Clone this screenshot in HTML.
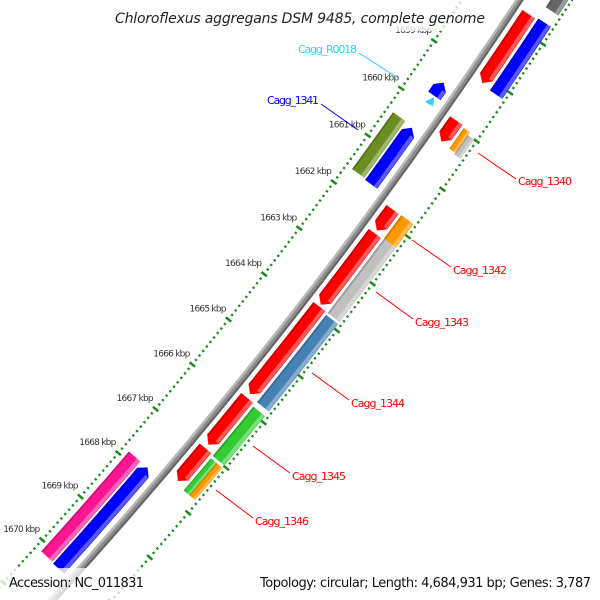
<!DOCTYPE html>
<html><head><meta charset="utf-8"><style>
html,body{margin:0;padding:0;background:#fff;width:600px;height:600px;overflow:hidden;}
svg{display:block;font-family:"DejaVu Sans","Liberation Sans",sans-serif;}
</style></head><body>
<svg id="map" width="600" height="600" viewBox="0 0 600 600" xmlns="http://www.w3.org/2000/svg">
<g id="ticks"></g>
<g id="backbone"></g>
<g id="genes"></g>
<g id="ticklabels" font-size="9" fill="#333"></g>
<g font-size="11">
  <line x1="359" y1="53" x2="398" y2="78" stroke="#33ccff" stroke-width="1"/>
  <text x="298" y="53" fill="#33ccff" textLength="59">Cagg_R0018</text>
  <line x1="321" y1="104" x2="358" y2="130" stroke="#0000ff" stroke-width="1"/>
  <text x="267" y="104" fill="#0000ff" textLength="52">Cagg_1341</text>
  <line x1="478" y1="153" x2="516" y2="179" stroke="#ff0000" stroke-width="1"/>
  <text x="518" y="185" fill="#ff0000" textLength="54">Cagg_1340</text>
  <line x1="412" y1="240" x2="451" y2="267" stroke="#ff0000" stroke-width="1"/>
  <text x="453" y="274" fill="#ff0000" textLength="54">Cagg_1342</text>
  <line x1="376" y1="292" x2="413" y2="319" stroke="#ff0000" stroke-width="1"/>
  <text x="415" y="326" fill="#ff0000" textLength="54">Cagg_1343</text>
  <line x1="312" y1="373" x2="349" y2="400" stroke="#ff0000" stroke-width="1"/>
  <text x="351" y="407" fill="#ff0000" textLength="54">Cagg_1344</text>
  <line x1="253" y1="446" x2="290" y2="473" stroke="#ff0000" stroke-width="1"/>
  <text x="292" y="480" fill="#ff0000" textLength="54">Cagg_1345</text>
  <line x1="216" y1="490" x2="253" y2="518" stroke="#ff0000" stroke-width="1"/>
  <text x="255" y="525" fill="#ff0000" textLength="54">Cagg_1346</text>
</g>
<rect x="105" y="0" width="390" height="31" fill="#fff" opacity="0.75"/>
<text x="115" y="23" font-size="14" font-style="italic" fill="#222" textLength="370">Chloroflexus aggregans DSM 9485, complete genome</text>
<rect x="0" y="568" width="600" height="32" fill="#fff" opacity="0.75"/>
<text x="9" y="587" font-size="13" fill="#111" textLength="135">Accession: NC_011831</text>
<text x="260" y="587" font-size="13" fill="#111" textLength="331">Topology: circular; Length: 4,684,931 bp; Genes: 3,787</text>
</svg>
<script>
var geneStart = [1657.71,1657.68,1657.00,1659.50,1659.80,1659.91,1659.94,1660.00,1660.42,1660.45,1661.78,1661.77,1662.29,1662.27,1663.86,1663.90,1665.85,1665.90,1666.97,1667.04,1667.04,1667.86,1667.86];
var geneEnd   = [1659.13,1659.16,1657.45,1659.78,1659.95,1660.35,1660.37,1660.40,1661.63,1661.65,1662.23,1662.27,1663.82,1663.86,1665.77,1665.80,1666.89,1666.99,1667.70,1667.76,1667.76,1670.16,1670.18];
var geneLane  = ["R1","R2","R2","L1","LC","R1","R2a","R2b","L2","L1","R1","R2","R1","R2","R1","R2","R1","R2","R1","R2a","R2b","L2","L1"];
var geneColor = ["#ff0000","#0000ff","#666666","#0000ff","#33ccff","#ff0000","#ff9900","#c0c0c0","#6b8e23","#0000ff","#ff0000","#ff9900","#ff0000","#c0c0c0","#ff0000","#4682b4","#ff0000","#33cc33","#ff0000","#33cc33","#ff9900","#ff1493","#0000ff"];
var geneArrow = ["end","none","none","start","start","end","none","none","none","start","end","none","end","none","end","none","end","none","end","none","none","none","start"];
var tickLabels = [1659,1660,1661,1662,1663,1664,1665,1666,1667,1668,1669,1670];

var NS="http://www.w3.org/2000/svg";
var CX=-3545, CY=-2681, R=4869;
var laneR={L2:[-41,-26],L1:[-24,-9],LC:[-20,-12],R1:[8,23],R2:[26,41],R2a:[26,33.5],R2b:[33.5,41]};
function ang(k){return 35.06+0.686*(k-1660);}
function P(r,d){var a=d*Math.PI/180;return (CX+r*Math.cos(a)).toFixed(2)+" "+(CY+r*Math.sin(a)).toFixed(2);}
function band(a1,a2,r1,r2){return "M"+P(r1,a1)+" A"+r1+" "+r1+" 0 0 1 "+P(r1,a2)+" L"+P(r2,a2)+" A"+r2+" "+r2+" 0 0 0 "+P(r2,a1)+" Z";}
function mk(tag,parent,attrs){var e=document.createElementNS(NS,tag);for(var k in attrs)e.setAttribute(k,attrs[k]);parent.appendChild(e);return e;}

// ticks every 0.1 kbp, major every 1 kbp
var tg=document.getElementById("ticks");
for(var i=16550;i<=16720;i+=1){
  var k=i/10, a=ang(k), major=(i%10===0);
  [R-48,R+44].forEach(function(rr){
    var t;
    if(major){ t=mk("path",tg,{d:"M"+P(rr-3.5,a)+" L"+P(rr+3.5,a),stroke:"#1a8a1a","stroke-width":"2.5"}); }
    else { t=mk("path",tg,{d:"M"+P(rr-1.2,a)+" L"+P(rr+1.2,a),stroke:"#1a8a1a","stroke-width":"2.2"}); }
    
    
  });
}
// tick labels
var lg=document.getElementById("ticklabels");
tickLabels.forEach(function(k){
  var a=ang(k)*Math.PI/180, r=R-48;
  var x=CX+r*Math.cos(a), y=CY+r*Math.sin(a);
  var t=mk("text",lg,{x:(x-2).toFixed(1),y:(y-8).toFixed(1),"text-anchor":"end",textLength:"37"});
  t.textContent=k+" kbp";
  
  
});
// backbone
var bg=document.getElementById("backbone");
var a0=ang(1655), a9=ang(1672);
[[R-2.5,"#b8b8b8",2.4],[R,"#8c8c8c",2.6],[R+2.5,"#666",2.4]].forEach(function(s){
  var b=mk("path",bg,{d:"M"+P(s[0],a0)+" A"+s[0]+" "+s[0]+" 0 0 1 "+P(s[0],a9),fill:"none",stroke:s[1],"stroke-width":s[2]});
  
  
});
// genes
var gg=document.getElementById("genes");
var AD=7/R*180/Math.PI;
for(var j=0;j<geneStart.length;j++){
  var lr=laneR[geneLane[j]], r1=R+lr[0], r2=R+lr[1], rm=(r1+r2)/2;
  var a1=ang(geneStart[j]), a2=ang(geneEnd[j]), d, b1=a1, b2=a2;
  if(geneArrow[j]==="end"){ b2=a2-AD; d="M"+P(r1,a1)+" A"+r1+" "+r1+" 0 0 1 "+P(r1,b2)+" L"+P(rm,a2)+" L"+P(r2,b2)+" A"+r2+" "+r2+" 0 0 0 "+P(r2,a1)+" Z"; }
  else if(geneArrow[j]==="start"){ b1=a1+AD; d="M"+P(rm,a1)+" L"+P(r1,b1)+" A"+r1+" "+r1+" 0 0 1 "+P(r1,a2)+" L"+P(r2,a2)+" A"+r2+" "+r2+" 0 0 0 "+P(r2,b1)+" Z"; }
  else { d=band(a1,a2,r1,r2); }
  var g=mk("g",gg,{});
  
  
  mk("path",g,{d:d,fill:geneColor[j]});
  var w=r2-r1, sl=Math.max(1.5,w*0.22);
  mk("path",g,{d:band(b1,b2,r2-sl-1,r2-0.5),fill:"#fff",opacity:"0.35"});
  mk("path",g,{d:band(b1,b2,r1,r1+Math.max(1,w*0.12)),fill:"#000",opacity:"0.2"});
}
</script>
</body></html>
